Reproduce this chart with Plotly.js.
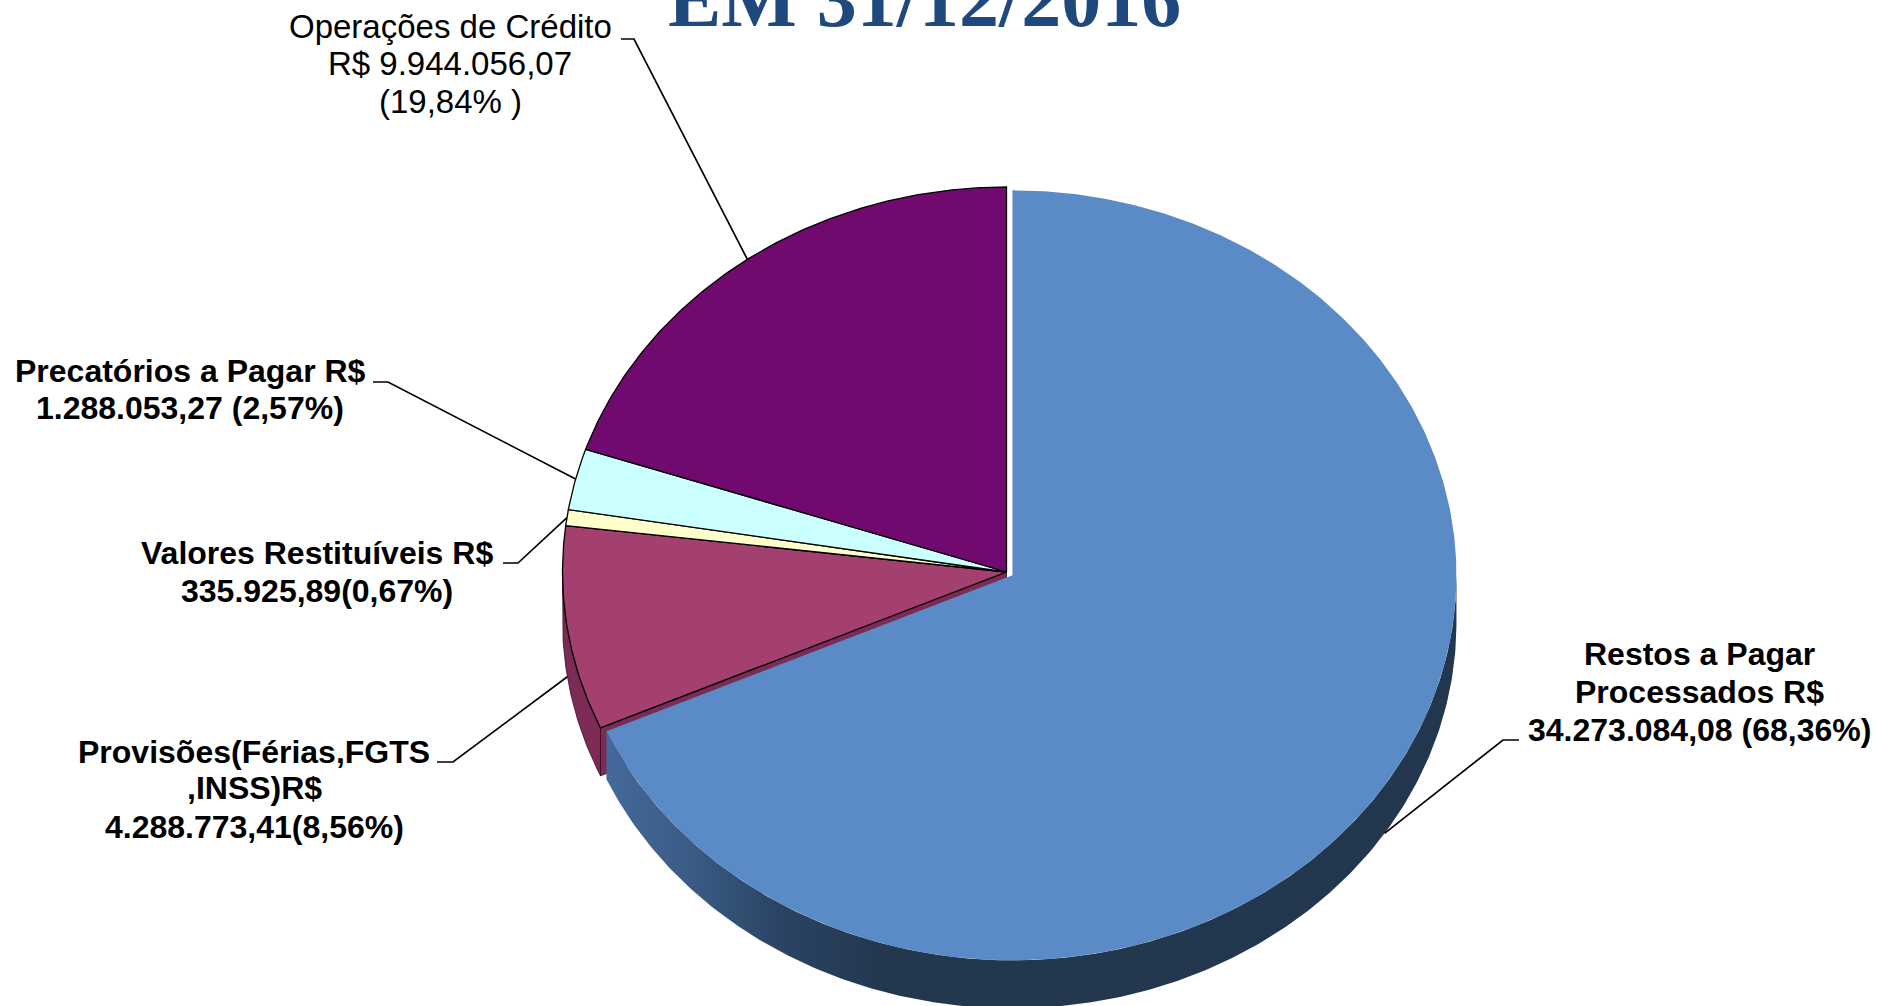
<!DOCTYPE html>
<html><head><meta charset="utf-8">
<script src="https://cdn.plot.ly/plotly-3.0.1.min.js"></script>
<style>html,body{margin:0;padding:0;background:#fff;overflow:hidden}#chart{width:1879px;height:1006px}</style>
</head><body><div id="chart"></div>
<script>
// ---- data ----
const categories = ['Restos a Pagar Processados', 'Provisões(Férias,FGTS,INSS)', 'Valores Restituíveis', 'Precatórios a Pagar', 'Operações de Crédito'];
const values = [34273084.08, 4288773.41, 335925.89, 1288053.27, 9944056.07];
const labelLines = [
  ['Restos a Pagar', 'Processados R$', '34.273.084,08 (68,36%)'],
  ['Provisões(Férias,FGTS', ',INSS)R$', '4.288.773,41(8,56%)'],
  ['Valores Restituíveis R$', '335.925,89(0,67%)'],
  ['Precatórios a Pagar R$', '1.288.053,27 (2,57%)'],
  ['Operações de Crédito', 'R$ 9.944.056,07', '(19,84% )']
];
const titleText = 'EM 31/12/2016';
const topColors = ['#5B8BC6', '#A3406F', '#FFFFCC', '#CCFFFF', '#710A6E'];
const sideColors = ['#23374F', '#7B2B55', '#CFCF9C', '#9CCFCF', '#4E064C'];

// ---- layout constants ----
const W = 1879, H = 1006;
const G = {cx: 1006.5, cy: 572, rx: 444, ry: 385, depth: 48};
const explode = [0.016, 0, 0, 0, 0];
const labelLayout = [
  {x: 1699, y: [654, 692, 730], elbow: [[1519, 740], [1503, 740]], bold: true, size: 32},
  {x: 254, y: [752, 788, 827], elbow: [[437, 762], [453, 762]], bold: true, size: 32},
  {x: 317, y: [553, 591], elbow: [[503, 563], [518, 563]], bold: true, size: 32},
  {x: 190, y: [371, 408], elbow: [[373, 382], [388, 382]], bold: true, size: 32},
  {x: 450, y: [26, 63, 101], elbow: [[621, 39], [634, 39]], bold: false, size: 33}
];
const FONT = 'Liberation Sans, Arial, sans-serif';

// ---- geometry from values ----
const total = values.reduce((a, b) => a + b, 0);
const slices = [];
let acc = 0;
values.forEach((v, i) => {
  const a1 = acc / total * 360;
  acc += v;
  const a2 = acc / total * 360;
  const mid = (a1 + a2) / 2;
  const mr = mid * Math.PI / 180;
  const off = [explode[i] * G.rx * Math.sin(mr), -explode[i] * G.ry * Math.cos(mr)];
  slices.push({i, a1, a2, mid, off});
});
const nS = slices.length;
function pt(a, off, dy) {
  const r = a * Math.PI / 180;
  return [G.cx + off[0] + G.rx * Math.sin(r), G.cy + off[1] - G.ry * Math.cos(r) + dy];
}
function arc(a1, a2, off, dy) {
  const n = Math.max(2, Math.ceil(Math.abs(a2 - a1) / 0.5));
  const p = [];
  for (let k = 0; k <= n; k++) p.push(pt(a1 + (a2 - a1) * k / n, off, dy));
  return p;
}
function poly(points, fill, lineColor, lineWidth, extra) {
  const t = {
    type: 'scatter', mode: 'lines', fill: 'toself', fillcolor: fill,
    x: points.map(p => p[0]), y: points.map(p => p[1]),
    line: {color: lineColor, width: lineWidth}, hoverinfo: 'skip', showlegend: false
  };
  return Object.assign(t, extra || {});
}

const faces = [], walls = [], wallsEx = [], tops = [], topsEx = [];
slices.forEach(s => {
  const c = [G.cx + s.off[0], G.cy + s.off[1]];
  const cd = [c[0], c[1] + G.depth];
  const prev = (s.i - 1 + nS) % nS, next = (s.i + 1) % nS;
  // radial faces, only where a neighbour is pulled out
  [[s.a1, s.a1 - 90, prev], [s.a2, s.a2 + 90, next]].forEach(([a, n, nb]) => {
    const exposed = explode[nb] > 0 || explode[s.i] > 0;
    if (exposed && Math.cos(n * Math.PI / 180) < -0.01) {
      const r0 = pt(a, s.off, 0), r1 = pt(a, s.off, G.depth);
      faces.push(poly([c, r0, r1, cd, c], sideColors[s.i], '#2a0a1a', 0.8));
    }
  });
  // outer wall (front half only)
  const lo = Math.max(s.a1, 90), hi = Math.min(s.a2, 270);
  if (lo < hi) {
    const pts = arc(lo, hi, s.off, 0).concat(arc(hi, lo, s.off, G.depth));
    pts.push(pts[0]);
    let extra = null;
    if (s.i === 0) {
      extra = {fillgradient: {type: 'horizontal', colorscale: [
        [0, '#44699A'], [0.1, '#3A5B84'], [0.2, '#2B4465'], [0.32, '#23384F'], [1, '#22364D']]}};
    }
    (explode[s.i] > 0 ? wallsEx : walls).push(
      poly(pts, sideColors[s.i], explode[s.i] > 0 ? 'rgba(0,0,0,0)' : '#3a0a22', explode[s.i] > 0 ? 0 : 0.8, extra));
  }
  // top face
  const tp = [c].concat(arc(s.a1, s.a2, s.off, 0));
  tp.push(c);
  (explode[s.i] > 0 ? topsEx : tops).push(
    poly(tp, topColors[s.i], explode[s.i] > 0 ? 'rgba(0,0,0,0)' : '#000000', explode[s.i] > 0 ? 0 : 1.3));
});

// leader lines
const leaders = slices.map(s => {
  const front = s.mid > 90 && s.mid < 270;
  const anchor = pt(s.mid, s.off, front ? G.depth : 0);
  const L = labelLayout[s.i];
  const pts = [L.elbow[0], L.elbow[1], anchor];
  return {type: 'scatter', mode: 'lines', x: pts.map(p => p[0]), y: pts.map(p => p[1]),
    line: {color: '#000', width: 1.7}, hoverinfo: 'skip', showlegend: false};
});

const annotations = [];
labelLines.forEach((lines, i) => {
  const L = labelLayout[i];
  lines.forEach((txt, k) => {
    annotations.push({
      xref: 'x', yref: 'y', x: L.x, y: L.y[k], xanchor: 'center', yanchor: 'middle',
      text: L.bold ? '<b>' + txt + '</b>' : txt, showarrow: false,
      font: {family: FONT, size: L.size, color: '#000'}
    });
  });
});
annotations.push({
  xref: 'paper', yref: 'paper', x: 924 / W, y: 1 + 1 / H, xanchor: 'center', yanchor: 'middle',
  text: '<b>' + titleText + '</b>', showarrow: false,
  font: {family: 'Liberation Serif, Times New Roman, serif', size: 80, color: '#1F497D'}
});

const data = [].concat(faces, walls, wallsEx, tops, topsEx, leaders);
const layout = {
  width: W, height: H, margin: {l: 0, r: 0, t: 0, b: 0},
  paper_bgcolor: '#fff', plot_bgcolor: '#fff', showlegend: false, hovermode: false,
  xaxis: {range: [0, W], visible: false, fixedrange: true},
  yaxis: {range: [H, 0], visible: false, fixedrange: true},
  annotations
};
Plotly.newPlot('chart', data, layout, {displayModeBar: false, staticPlot: true});
</script></body></html>
